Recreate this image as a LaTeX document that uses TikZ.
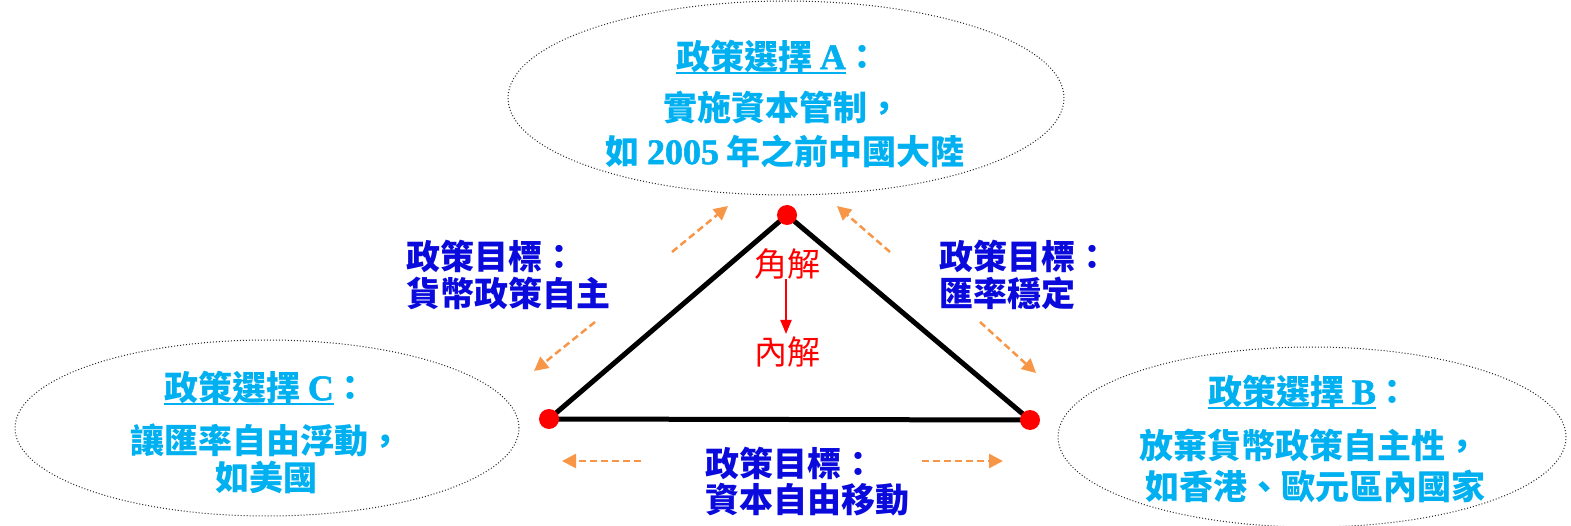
\documentclass[tikz,border=0pt]{standalone}
\usepackage{fontspec}
\setmainfont{Liberation Serif}
\newfontfamily\cjk{Noto Sans CJK TC}
\newfontfamily\latb{Liberation Serif Bold}[FakeBold=1.5]
\usetikzlibrary{shapes.geometric,arrows.meta}
\definecolor{cyanT}{HTML}{00B0F0}
\definecolor{blueT}{HTML}{0A0ADC}
\definecolor{orangeA}{HTML}{F79646}
\newcommand\ulbar[1]{\setbox0\hbox{#1}\rlap{\rule[-5pt]{\wd0}{2.5pt}}\box0}
\begin{document}
\begin{tikzpicture}[x=1pt,y=-1pt,
  oval/.style={draw=black!85,dotted,line width=1pt,ellipse,inner sep=0pt},
  ctext/.style={text=cyanT,font=\cjk\bfseries\fontsize{34}{38}\selectfont,inner sep=0pt},
  btext/.style={text=blueT,font=\cjk\bfseries\fontsize{34}{38}\selectfont,inner sep=0pt,anchor=west},
  rtext/.style={text=red,font=\cjk\fontsize{33}{36}\selectfont,inner sep=0pt},
  dot/.style={circle,fill=red,minimum size=20pt,inner sep=0pt},
  oarrow/.style={draw=orangeA,line width=2.5pt,dash pattern=on 7pt off 4pt,-{Triangle[length=14pt,width=14pt]}},
  edge/.style={line width=5pt,line cap=round}]
\useasboundingbox (0,0) rectangle (1571,526);
% ellipses
\node[oval,minimum width=556pt,minimum height=194pt] (eA) at (786,98) {};
\node[oval,minimum width=504pt,minimum height=176pt] (eC) at (267,428) {};
\node[oval,minimum width=508pt,minimum height=180pt] (eB) at (1312,437) {};
% ellipse texts
\node[ctext] (a1) at (778,57) {\ulbar{政策選擇 {\latb\fontsize{36}{38}\selectfont A}}：};
\node[ctext] (a2) at (782,108) {實施資本管制，};
\node[ctext] (a3) at (785,151) {如 {\latb\fontsize{36}{38}\selectfont 2005} 年之前中國大陸};
\node[ctext] (c1) at (266,388) {\ulbar{政策選擇 {\latb\fontsize{36}{38}\selectfont C}}：};
\node[ctext] (c2) at (266,440) {讓匯率自由浮動，};
\node[ctext] (c3) at (266,477) {如美國};
\node[ctext] (b1) at (1309,392) {\ulbar{政策選擇 {\latb\fontsize{36}{38}\selectfont B}}：};
\node[ctext] (b2) at (1309,445) {放棄貨幣政策自主性，};
\node[ctext] (b3) at (1315,486) {如香港、歐元區內國家};
% triangle
\coordinate (T) at (787,215);
\coordinate (L) at (549,419);
\coordinate (R) at (1030,420);
\draw[edge] (T) -- (L) -- (R) -- cycle;
\node[dot] (dT) at (T) {};
\node[dot] (dL) at (L) {};
\node[dot] (dR) at (R) {};
% red labels
\node[rtext] (jj) at (787,264) {角解};
\node[rtext] (nj) at (787,352) {內解};
\coordinate (ra1) at (786,279);
\coordinate (ra2) at (786,334);
\draw[red,line width=2pt,-{Triangle[length=14pt,width=11pt]}] (ra1) -- (ra2);
% goal labels
\node[btext] (g1a) at (406,256) {政策目標：};
\node[btext] (g1b) at (406,293) {貨幣政策自主};
\node[btext] (g2a) at (939,256) {政策目標：};
\node[btext] (g2b) at (939,293) {匯率穩定};
\node[btext] (g3a) at (705,463) {政策目標：};
\node[btext] (g3b) at (705,500) {資本自由移動};
% orange arrows
\coordinate (o1s) at (672,252); \coordinate (o1e) at (728,206);
\coordinate (o2s) at (890,252); \coordinate (o2e) at (837,206);
\coordinate (o3s) at (595,322); \coordinate (o3e) at (534,371);
\coordinate (o4s) at (980,322); \coordinate (o4e) at (1036,373);
\coordinate (o5s) at (641,461); \coordinate (o5e) at (562,461);
\coordinate (o6s) at (922,461); \coordinate (o6e) at (1003,461);
\draw[oarrow] (o1s) -- (o1e);
\draw[oarrow] (o2s) -- (o2e);
\draw[oarrow] (o3s) -- (o3e);
\draw[oarrow] (o4s) -- (o4e);
\draw[oarrow] (o5s) -- (o5e);
\draw[oarrow] (o6s) -- (o6e);
\end{tikzpicture}
\end{document}
